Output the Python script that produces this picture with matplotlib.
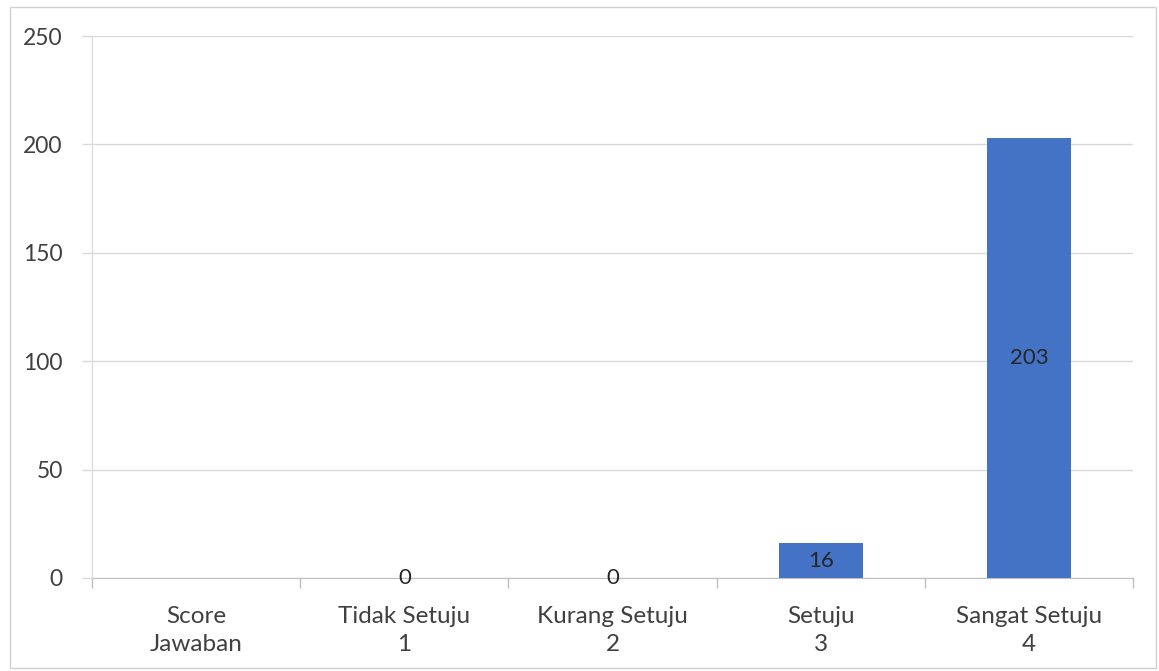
import matplotlib
matplotlib.use("Agg")
import matplotlib.pyplot as plt
import numpy as np
from matplotlib.patches import Rectangle

categories = ["Score\nJawaban", "Tidak Setuju\n1", "Kurang Setuju\n2", "Setuju\n3", "Sangat Setuju\n4"]
values = [None, 0, 0, 16, 203]
y_ticks = [0, 50, 100, 150, 200, 250]

plt.rcParams['font.family'] = ['Lato', 'DejaVu Sans']
text_color = "#404040"
bar_color = "#4472C4"
grid_color = "#d9d9d9"
axis_color = "#bfbfbf"

fig = plt.figure(figsize=(11.59, 6.71), dpi=100)
fig.patches.append(Rectangle((0.009, 0.004), 0.988, 0.985, transform=fig.transFigure,
                             fill=False, edgecolor="#d0d0d0", linewidth=1.0))
ax = fig.add_axes([0.0794, 0.1386, 0.8982, 0.8077])

x = np.arange(len(categories))
idx = [i for i, v in enumerate(values) if v is not None]
vals = [values[i] for i in idx]
bars = ax.bar([x[i] for i in idx], vals, width=0.405, color=bar_color, zorder=3)
ax.bar_label(bars, labels=[str(v) for v in vals], label_type='center',
             fontsize=16, color="#262626", zorder=4)

ax.set_xlim(-0.5, len(categories) - 0.5)
ax.set_ylim(0, 250)
ax.set_yticks(y_ticks)
ax.set_yticklabels([str(t) for t in y_ticks], fontsize=16.5, color=text_color)
ax.set_xticks(x)
ax.set_xticklabels(categories, fontsize=17.5, color=text_color, linespacing=1.45)
ax.set_xticks(np.arange(-0.5, len(categories), 1.0), minor=True)
ax.tick_params(axis='x', which='major', length=0, pad=20)
ax.tick_params(axis='x', which='minor', length=7, color=axis_color, width=1)
ax.tick_params(axis='y', length=7, color=grid_color, width=1, pad=14)

ax.grid(axis='y', color=grid_color, linewidth=1, zorder=0)
for s in ['top', 'right']:
    ax.spines[s].set_visible(False)
ax.spines['left'].set_color(grid_color)
ax.spines['bottom'].set_color(axis_color)
ax.spines['bottom'].set_zorder(2)

fig.savefig("out.png", dpi=100)
